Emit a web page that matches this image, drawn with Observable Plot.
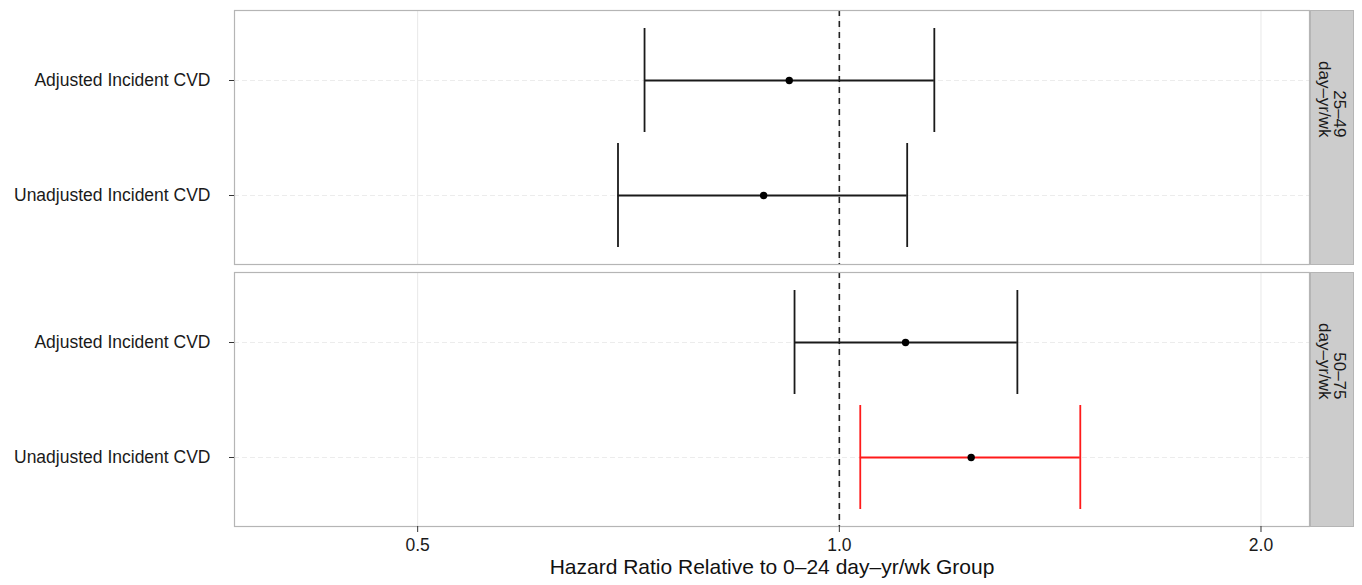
<!DOCTYPE html>
<html>
<head>
<meta charset="utf-8">
<script src="https://cdn.jsdelivr.net/npm/d3@7"></script>
<script src="https://cdn.jsdelivr.net/npm/@observablehq/plot@0.6"></script>
<style>
  html, body { margin: 0; padding: 0; background: #fff; }
</style>
</head>
<body>
<div id="chart"></div>
<script>
// ---- data ----
const groups   = ["25–49", "25–49", "50–75", "50–75"];
const outcomes = ["Adjusted Incident CVD", "Unadjusted Incident CVD", "Adjusted Incident CVD", "Unadjusted Incident CVD"];
const hr       = [0.921, 0.883, 1.115, 1.242];
const lower    = [0.726, 0.695, 0.929, 1.035];
const upper    = [1.169, 1.118, 1.340, 1.486];
const significant = [false, false, false, true];
const facetGroups = ["25–49", "50–75"];
const facetUnit = "day–yr/wk";
const outcomeOrder = ["Adjusted Incident CVD", "Unadjusted Incident CVD"];
const xTicks = [0.5, 1.0, 2.0];
const xDomain = [0.37, 2.166];
const refValue = [1];
const xTitle = "Hazard Ratio Relative to 0–24 day–yr/wk Group";

const rows = groups.map((g, i) => ({
  group: g, outcome: outcomes[i], hr: hr[i], lo: lower[i], hi: upper[i], sig: significant[i]
}));
const strips = facetGroups.map(g => ({group: g, label: g + "\n" + facetUnit}));

const W = 1362, H = 585;
const mL = 234, mR = 53, mT = 10, mB = 58;
const frameW = W - mL - mR;

const chart = Plot.plot({
  width: W, height: H,
  marginLeft: mL, marginRight: mR, marginTop: mT, marginBottom: mB,
  style: {fontFamily: "'Liberation Sans', Arial, Helvetica, sans-serif", fontSize: "17.5px", background: "#fff", color: "#1a1a1a"},
  x: {type: "log", domain: xDomain, axis: null},
  y: {type: "band", domain: outcomeOrder, paddingInner: 0.1, paddingOuter: 0.15, axis: null, label: null},
  fy: {domain: facetGroups, paddingInner: 0.0305, paddingOuter: 0, axis: null, label: null},
  color: {domain: [false, true], range: ["#1a1a1a", "#ff1a1a"]},
  marks: [
    Plot.gridX(xTicks, {stroke: "#e8e8e8", strokeOpacity: 1}),
    Plot.gridY(outcomeOrder, {stroke: "#ececec", strokeOpacity: 1, strokeDasharray: "5,3"}),
    Plot.ruleX(refValue, {stroke: "#222", strokeWidth: 1.6, strokeDasharray: "6,5"}),
    Plot.ruleY(rows, {fy: "group", y: "outcome", x1: "lo", x2: "hi", stroke: "sig", strokeWidth: 1.8}),
    Plot.tickX(rows, {fy: "group", y: "outcome", x: "lo", stroke: "sig", strokeWidth: 1.8}),
    Plot.tickX(rows, {fy: "group", y: "outcome", x: "hi", stroke: "sig", strokeWidth: 1.8}),
    Plot.dot(rows, {fy: "group", y: "outcome", x: "hr", r: 3.7, fill: "#000", stroke: null}),
    Plot.frame({stroke: "#b5b5b5", strokeWidth: 1.2}),
    // facet strip on the right
    Plot.frame({fill: "#cccccc", stroke: "#b5b5b5", strokeWidth: 1, insetLeft: frameW + 1, insetRight: -44}),
    Plot.text(strips, {fy: "group", text: "label", frameAnchor: "right", dx: 22, rotate: 90,
      fontSize: 17, fill: "#1a1a1a", lineHeight: 0.9}),
    Plot.axisY(outcomeOrder, {tickSize: 5, tickPadding: 19, fontSize: 17.5, fill: "#1a1a1a", stroke: "#333", label: null}),
    Plot.axisX(xTicks, {fy: () => facetGroups[facetGroups.length - 1], tickSize: 6, tickPadding: 6,
      tickFormat: d => d.toFixed(1), fontSize: 17.5, fill: "#1a1a1a", stroke: "#333", label: null}),
    Plot.text([xTitle], {fy: () => facetGroups[facetGroups.length - 1], text: d => d, frameAnchor: "bottom", dy: 47,
      fontSize: 21, fill: "#111"})
  ]
});
document.getElementById("chart").appendChild(chart);
</script>
</body>
</html>
